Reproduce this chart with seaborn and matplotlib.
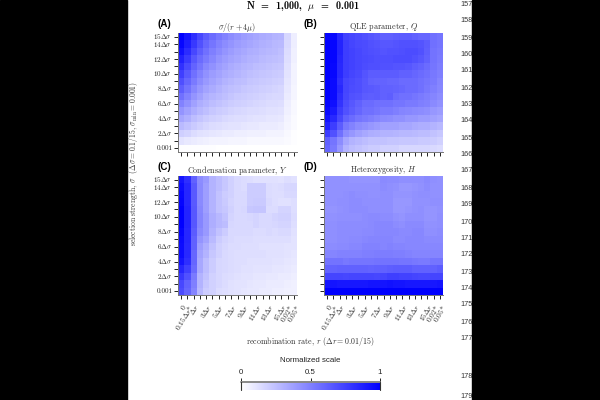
import numpy as np
import matplotlib
matplotlib.use("Agg")
import matplotlib.pyplot as plt
from matplotlib.colors import LinearSegmentedColormap
from matplotlib.patches import Rectangle
import seaborn as sns

sns.set_theme(style="ticks")
plt.rcParams.update({
    "font.family": ["cmr10", "DejaVu Sans"],
    "mathtext.fontset": "cm",
    "axes.formatter.use_mathtext": True,
    "axes.unicode_minus": False,
})

W, H = 600, 400

recomb_labels = ["$0$", r"$0.15\Delta r$*", r"$\Delta r$", "", r"$3\Delta r$", "", r"$5\Delta r$", "",
                 r"$7\Delta r$", "", r"$9\Delta r$", "", r"$11\Delta r$", "", r"$13\Delta r$", "",
                 r"$15\Delta r$", "$0.02$*", "$0.05$*"]
sigma_labels = [r"$15\Delta\sigma$", r"$14\Delta\sigma$", "", r"$12\Delta\sigma$", "", r"$10\Delta\sigma$", "",
                r"$8\Delta\sigma$", "", r"$6\Delta\sigma$", "", r"$4\Delta\sigma$", "", r"$2\Delta\sigma$", "",
                "0.001"]

# Percent of the normalized scale; rows run from strongest selection down to 0.001.
ratio_pct = [
    [100, 92, 82, 72, 64, 58, 53, 49, 45, 42, 39, 37, 35, 33, 32, 30, 29, 16, 7],
    [97, 88, 78, 68, 60, 54, 49, 45, 42, 39, 37, 35, 33, 31, 30, 28, 27, 15, 7],
    [93, 83, 72, 63, 56, 50, 46, 42, 39, 36, 34, 32, 31, 29, 28, 27, 25, 14, 6],
    [87, 77, 66, 58, 52, 47, 42, 39, 36, 34, 32, 30, 29, 27, 26, 25, 24, 13, 6],
    [81, 71, 61, 54, 47, 43, 39, 36, 33, 31, 29, 28, 26, 25, 24, 23, 22, 12, 5],
    [75, 65, 56, 49, 43, 39, 36, 33, 31, 29, 27, 25, 24, 23, 22, 21, 20, 11, 5],
    [69, 60, 52, 45, 40, 36, 33, 30, 28, 26, 25, 23, 22, 21, 20, 19, 18, 10, 5],
    [63, 55, 47, 41, 36, 33, 30, 27, 25, 24, 22, 21, 20, 19, 18, 17, 16, 9, 4],
    [56, 49, 42, 37, 32, 29, 27, 25, 23, 21, 20, 19, 18, 17, 16, 15, 15, 8, 4],
    [49, 43, 37, 32, 29, 26, 24, 22, 20, 19, 18, 17, 16, 15, 14, 14, 13, 7, 3],
    [42, 37, 32, 28, 25, 22, 20, 19, 17, 16, 15, 14, 14, 13, 12, 12, 11, 6, 3],
    [35, 31, 26, 23, 20, 18, 17, 15, 14, 13, 13, 12, 11, 11, 10, 10, 9, 5, 2],
    [27, 24, 21, 18, 16, 14, 13, 12, 11, 11, 10, 9, 9, 8, 8, 8, 7, 4, 2],
    [19, 17, 14, 12, 11, 10, 9, 8, 8, 7, 7, 6, 6, 6, 5, 5, 5, 3, 1],
    [11, 9, 8, 7, 6, 5, 5, 5, 4, 4, 4, 3, 3, 3, 3, 3, 3, 2, 1],
    [1, 1, 1, 1, 1, 1, 0, 0, 0, 0, 0, 0, 0, 0, 0, 0, 0, 0, 0],
]
qle_pct = [
    [98, 96, 84, 74, 72, 70, 68, 66, 64, 62, 62, 63, 64, 64, 62, 60, 60, 56, 54],
    [100, 98, 86, 76, 73, 71, 70, 68, 67, 66, 66, 67, 68, 68, 68, 67, 64, 56, 54],
    [100, 98, 86, 76, 74, 72, 70, 69, 68, 67, 68, 68, 69, 70, 70, 68, 63, 55, 53],
    [100, 98, 85, 76, 74, 72, 71, 70, 69, 69, 69, 70, 70, 70, 68, 66, 62, 55, 52],
    [100, 97, 84, 76, 74, 72, 70, 69, 69, 68, 68, 67, 67, 66, 63, 61, 58, 54, 51],
    [100, 97, 84, 76, 73, 71, 67, 64, 64, 64, 64, 64, 62, 62, 60, 58, 56, 53, 50],
    [100, 96, 82, 73, 71, 69, 66, 62, 61, 61, 60, 60, 58, 58, 58, 56, 54, 52, 48],
    [100, 96, 84, 73, 70, 69, 66, 65, 64, 62, 62, 61, 60, 58, 58, 56, 53, 50, 47],
    [100, 96, 82, 72, 68, 67, 64, 63, 64, 62, 63, 58, 56, 56, 54, 52, 50, 48, 45],
    [98, 94, 80, 70, 66, 62, 58, 58, 56, 56, 56, 54, 54, 52, 52, 50, 49, 46, 43],
    [96, 90, 76, 68, 64, 60, 56, 56, 54, 52, 52, 50, 48, 47, 46, 45, 44, 41, 39],
    [92, 84, 72, 62, 58, 54, 52, 50, 48, 46, 45, 43, 43, 41, 41, 39, 39, 37, 35],
    [86, 76, 64, 53, 49, 45, 43, 41, 39, 37, 37, 37, 35, 35, 33, 32, 32, 30, 28],
    [76, 68, 56, 45, 41, 37, 34, 32, 31, 30, 30, 29, 28, 28, 27, 26, 26, 24, 22],
    [62, 54, 45, 35, 30, 28, 26, 24, 24, 24, 23, 23, 22, 22, 22, 21, 21, 20, 18],
    [60, 52, 41, 30, 26, 24, 22, 20, 20, 18, 18, 18, 16, 16, 16, 16, 16, 15, 14],
]
condensation_pct = [
    [92, 82, 62, 45, 40, 30, 26, 22, 18, 15, 14, 13, 12, 12, 12, 12, 11, 13, 12],
    [95, 85, 65, 46, 38, 30, 26, 22, 18, 15, 14, 20, 20, 20, 14, 13, 14, 16, 16],
    [97, 85, 65, 46, 38, 30, 24, 20, 18, 15, 15, 20, 20, 20, 14, 13, 13, 15, 15],
    [98, 85, 65, 46, 38, 30, 24, 21, 17, 15, 15, 20, 21, 21, 15, 13, 12, 12, 13],
    [100, 86, 66, 47, 38, 30, 24, 22, 18, 15, 16, 22, 23, 23, 14, 14, 17, 17, 13],
    [100, 86, 66, 48, 40, 32, 28, 24, 17, 15, 15, 16, 17, 15, 15, 17, 18, 18, 14],
    [100, 86, 66, 48, 40, 32, 28, 26, 16, 15, 15, 15, 17, 15, 15, 16, 17, 17, 13],
    [98, 85, 64, 46, 40, 30, 24, 20, 15, 15, 15, 15, 14, 14, 15, 14, 15, 15, 12],
    [96, 85, 62, 42, 36, 27, 20, 17, 15, 14, 14, 14, 13, 13, 13, 13, 13, 13, 11],
    [95, 84, 62, 38, 32, 24, 18, 16, 14, 14, 13, 13, 13, 12, 12, 12, 12, 11, 11],
    [95, 84, 60, 36, 30, 22, 18, 15, 14, 13, 13, 13, 13, 13, 12, 12, 12, 11, 10],
    [92, 82, 60, 34, 26, 20, 16, 15, 14, 13, 13, 12, 12, 12, 12, 11, 11, 10, 9],
    [85, 75, 58, 34, 26, 20, 16, 15, 14, 13, 12, 12, 11, 11, 11, 10, 10, 9, 8],
    [78, 68, 52, 30, 24, 18, 16, 14, 13, 12, 11, 11, 10, 10, 9, 9, 8, 8, 7],
    [72, 62, 50, 30, 22, 18, 16, 14, 12, 11, 11, 10, 9, 9, 8, 8, 8, 7, 6],
    [70, 60, 48, 28, 20, 18, 14, 13, 12, 11, 10, 9, 9, 8, 8, 7, 7, 6, 6],
]
heterozygosity_pct = [
    [43, 43, 43, 43, 42, 42, 42, 42, 42, 46, 45, 45, 44, 44, 44, 44, 46, 44, 43],
    [43, 43, 43, 43, 43, 43, 43, 43, 43, 45, 44, 43, 41, 41, 42, 43, 45, 43, 43],
    [43, 43, 43, 44, 45, 44, 44, 43, 43, 44, 44, 42, 42, 42, 43, 44, 44, 43, 43],
    [43, 43, 44, 44, 45, 45, 44, 44, 44, 44, 44, 41, 41, 41, 43, 43, 43, 44, 44],
    [42, 42, 43, 44, 45, 45, 45, 44, 44, 44, 44, 41, 41, 42, 43, 44, 42, 42, 43],
    [43, 43, 44, 44, 44, 44, 45, 46, 46, 45, 45, 43, 42, 44, 44, 44, 42, 42, 44],
    [44, 44, 45, 45, 45, 45, 45, 46, 47, 47, 47, 45, 44, 46, 46, 46, 43, 43, 44],
    [44, 44, 45, 45, 45, 45, 46, 46, 47, 47, 47, 47, 46, 46, 47, 47, 44, 44, 45],
    [44, 44, 45, 45, 46, 46, 47, 48, 48, 48, 48, 46, 46, 47, 47, 47, 46, 46, 46],
    [45, 45, 46, 46, 47, 47, 49, 49, 49, 48, 49, 48, 48, 47, 47, 47, 47, 47, 47],
    [48, 48, 49, 49, 49, 49, 50, 50, 51, 51, 51, 50, 50, 49, 48, 48, 48, 48, 48],
    [55, 55, 55, 53, 54, 54, 54, 54, 55, 55, 55, 55, 54, 54, 53, 52, 52, 54, 54],
    [61, 61, 62, 62, 62, 62, 62, 61, 62, 62, 63, 64, 64, 64, 62, 62, 62, 62, 64],
    [73, 73, 73, 72, 73, 73, 73, 73, 72, 73, 75, 75, 74, 74, 73, 72, 72, 73, 73],
    [92, 92, 91, 91, 91, 91, 91, 92, 92, 92, 93, 92, 92, 91, 91, 91, 91, 91, 92],
    [100, 100, 100, 100, 100, 100, 100, 100, 100, 100, 100, 100, 100, 100, 100, 100, 100, 100, 100],
]

panel_titles = [r"$\sigma/(r+4\mu)$", "QLE parameter, $Q$",
                "Condensation parameter, $Y$", "Heterozygosity, $H$"]
panel_tags = ["(A)", "(B)", "(C)", "(D)"]
margin_numbers = list(range(157, 180))
margin_rows = [4, 21, 38, 55, 71, 88, 105, 121, 138, 155, 171, 188, 205, 222, 238, 255, 272,
               289, 305, 322, 338, 377, 397]

white_blue = LinearSegmentedColormap.from_list("white_blue", ["#ffffff", "#0000ff"])
fig = plt.figure(figsize=(W / 100, H / 100), dpi=100, facecolor="white")


def px_axes(x0, y0, x1, y1):
    return fig.add_axes([x0 / W, 1 - y1 / H, (x1 - x0) / W, (y1 - y0) / H])


boxes = [(178, 33, 297, 152), (324, 33, 443, 152), (178, 176, 297, 295), (324, 176, 443, 295)]
tables = [ratio_pct, qle_pct, condensation_pct, heterozygosity_pct]
for i, (box, table) in enumerate(zip(boxes, tables)):
    ax = px_axes(*box)
    values = np.array(table) / 100
    sns.heatmap(values, ax=ax, cmap=white_blue, vmin=0, vmax=1, cbar=False, square=False,
                xticklabels=recomb_labels if i >= 2 else False,
                yticklabels=sigma_labels if i % 2 == 0 else False)
    ax.set_xticks(np.arange(19) + 0.5)
    ax.set_yticks(np.arange(16) + 0.5)
    if i >= 2:
        ax.set_xticklabels(recomb_labels, rotation=58, ha="right", va="top",
                           rotation_mode="anchor", fontsize=5.4, color="#222222")
    else:
        ax.set_xticklabels([])
    if i % 2 == 0:
        ax.set_yticklabels(sigma_labels, rotation=0, fontsize=5.1, color="#222222")
    else:
        ax.set_yticklabels([])
    ax.tick_params(axis="x", length=3, width=0.7, color="#222222", pad=2.5)
    ax.tick_params(axis="y", length=3, width=0.7, color="#222222", pad=1)
    for spine in ("left", "bottom"):
        ax.spines[spine].set_visible(True)
        ax.spines[spine].set_color("#777777")
        ax.spines[spine].set_linewidth(0.7)
    fig.text((box[0] + box[2]) / 2 / W, 1 - (box[1] - 6) / H, panel_titles[i], ha="center",
             va="center", fontsize=5.9, color="#333333")
    fig.text((box[0] - 21) / W, 1 - (box[1] - 9) / H, panel_tags[i], ha="left", va="center",
             fontsize=7, fontweight="bold", family="Liberation Sans", color="black")

fig.text(303 / W, 1 - 6 / H, r"N  =  1,000,  $\mathbf{\mu}$  =  0.001", family="cmb10",
         ha="center", va="center", fontsize=7.3, color="black")
fig.text(133 / W, 1 - 164 / H, r"selection strength, $\sigma$  ($\Delta\sigma=0.1/15$, $\sigma_{\min}=0.001$)",
         rotation=90, ha="center", va="center", fontsize=5.5, color="#333333")
fig.text(310 / W, 1 - 341 / H, r"recombination rate, $r$ ($\Delta r=0.01/15$)",
         ha="center", va="center", fontsize=5.7, color="#333333")

# Horizontal scale bar shared by all four panels.
cax = px_axes(241, 382, 380, 390)
bar = fig.colorbar(ax.collections[0], cax=cax, orientation="horizontal", ticks=[0, 0.5, 1])
bar.ax.xaxis.set_ticks_position("top")
bar.ax.set_xticklabels(["0", "0.5", "1"], family="Liberation Sans", fontsize=5.7, color="#222222")
bar.ax.tick_params(axis="x", length=3, width=0.7, pad=1.5, color="#222222")
bar.outline.set_visible(False)
cax.plot([0, 1], [1, 1], color="#888888", lw=1.4, transform=cax.transAxes, clip_on=False)
cax.plot([0, 0], [0, 1], color="#333333", lw=0.8, transform=cax.transAxes, clip_on=False)
cax.plot([1, 1], [0, 1], color="#333333", lw=0.8, transform=cax.transAxes, clip_on=False)
fig.text(310 / W, 1 - 361 / H, "Normalized scale", family="Liberation Sans", ha="center",
         va="center", fontsize=5.7, color="#222222")

# Running numbers in the right margin, cut off by the dark border.
for number, row in zip(margin_numbers, margin_rows):
    fig.text(460.5 / W, 1 - row / H, str(number), family="Liberation Sans", ha="left", va="center",
             fontsize=5.3, color="#333333", zorder=1)

fig.add_artist(Rectangle((0, 0), 127 / W, 1, transform=fig.transFigure, color="black", zorder=10))
fig.add_artist(Rectangle((472 / W, 0), 128 / W, 1, transform=fig.transFigure, color="black", zorder=10))

fig.savefig("out.png", dpi=100)
